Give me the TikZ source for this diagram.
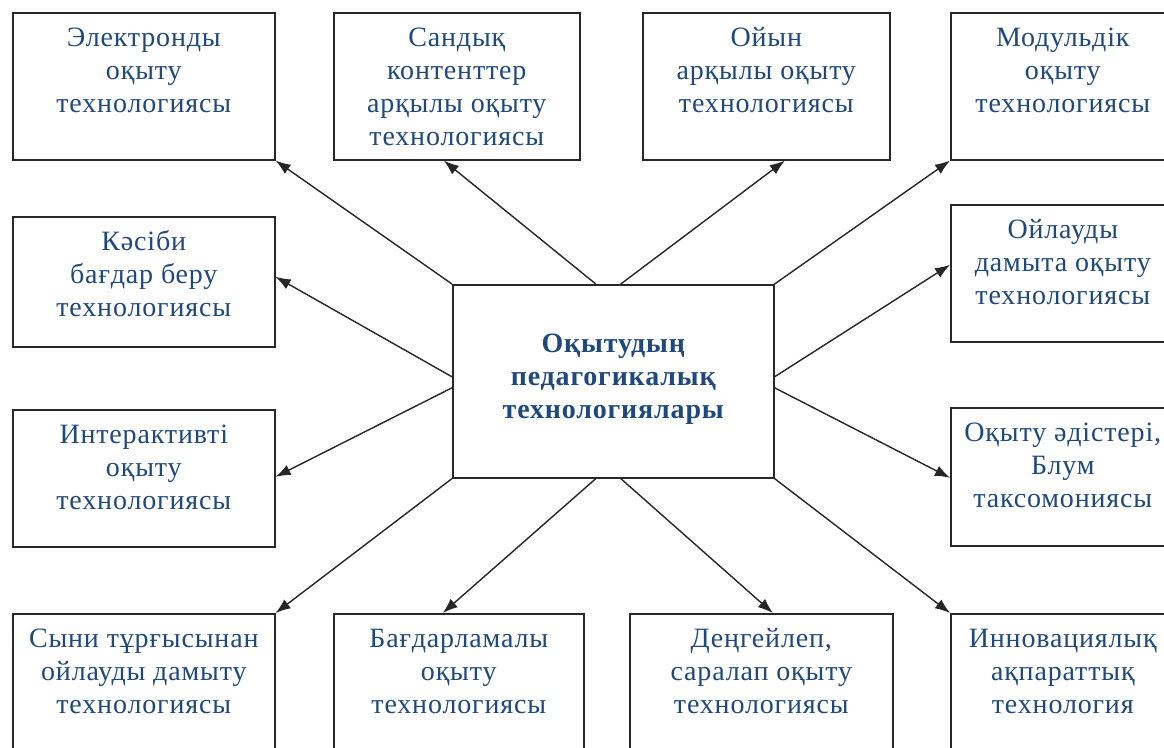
\documentclass[tikz,border=0pt]{standalone}
\usepackage{fontspec}
\setmainfont{Liberation Serif}[LetterSpace=3]
\usetikzlibrary{arrows.meta,calc}
\definecolor{txtcol}{RGB}{31,73,125}
\definecolor{edgecol}{RGB}{40,40,40}
\newcommand{\bxt}[3]{\parbox[t][#2][t]{#1}{\centering\rule{0pt}{34pt}#3\par}}
\begin{document}
\begin{tikzpicture}[x=1pt,y=-1pt,
  tbox/.style={draw=edgecol, line width=1.6pt, fill=white, inner sep=0pt, anchor=north west,
    text=txtcol, font=\fontsize{28}{33}\selectfont},
  arr/.style={draw=black!85, line width=1.4pt, -{Latex[length=15pt,width=11pt]}}]
\useasboundingbox (0,0) rectangle (1164,747);
\fill[white] (0,0) rectangle (1164,747);
\clip (0,0) rectangle (1164,747);
% top row
\node[tbox] (b1) at (12,12) {\bxt{262pt}{147pt}{Электронды\\оқыту\\технологиясы}};
\node[tbox] (b2) at (333,12) {\bxt{246pt}{147pt}{Сандық\\контенттер\\арқылы оқыту\\технологиясы}};
\node[tbox] (b3) at (642,12) {\bxt{247pt}{147pt}{Ойын\\арқылы оқыту\\технологиясы}};
\node[tbox] (b4) at (950,12) {\bxt{224pt}{147pt}{Модульдік\\оқыту\\технологиясы}};
% left column
\node[tbox] (b5) at (12,216) {\bxt{262pt}{130pt}{Кәсіби\\бағдар беру\\технологиясы}};
\node[tbox] (b6) at (12,409) {\bxt{262pt}{137pt}{Интерактивті\\оқыту\\технологиясы}};
% right column
\node[tbox] (b7) at (950,204) {\bxt{224pt}{137pt}{Ойлауды\\дамыта оқыту\\технологиясы}};
\node[tbox] (b8) at (950,407) {\bxt{224pt}{138pt}{Оқыту әдістері,\\Блум\\таксомониясы}};
% bottom row
\node[tbox] (b9) at (12,613) {\bxt{262pt}{147pt}{Сыни тұрғысынан\\ойлауды дамыту\\технологиясы}};
\node[tbox] (b10) at (333,613) {\bxt{250pt}{147pt}{Бағдарламалы\\оқыту\\технологиясы}};
\node[tbox] (b11) at (629,613) {\bxt{263pt}{147pt}{Деңгейлеп,\\саралап оқыту\\технологиясы}};
\node[tbox] (b12) at (950,613) {\bxt{224pt}{147pt}{Инновациялық\\ақпараттық\\технология}};
% centre
\node[tbox, font=\fontsize{28}{33}\selectfont\bfseries] (c) at (452,284)
  {\parbox[t][193pt][t]{321pt}{\centering\rule{0pt}{68pt}Оқытудың\\педагогикалық\\технологиялары\par}};
% arrows
\draw[arr] (c.north west) -- (b1.south east);
\draw[arr] ($(c.north)+(-17.5,0)$) -- ($(b2.south)+(-13,0)$);
\draw[arr] ($(c.north)+(7.5,0)$) -- ($(b3.south)+(18.5,0)$);
\draw[arr] (c.north east) -- (b4.south west);
\draw[arr] ($(c.west)+(0,-4.5)$) -- ($(b5.east)+(0,-5)$);
\draw[arr] ($(c.west)+(0,6.5)$) -- ($(b6.east)+(0,-1.5)$);
\draw[arr] ($(c.east)+(0,-4.5)$) -- ($(b7.west)+(0,-8.5)$);
\draw[arr] ($(c.east)+(0,6.5)$) -- ($(b8.west)+(0,1)$);
\draw[arr] (c.south west) -- (b9.north east);
\draw[arr] ($(c.south)+(-17.5,0)$) -- ($(b10.north)+(-16,0)$);
\draw[arr] ($(c.south)+(7.5,0)$) -- ($(b11.north)+(11.5,0)$);
\draw[arr] (c.south east) -- (b12.north west);
\end{tikzpicture}
\end{document}
